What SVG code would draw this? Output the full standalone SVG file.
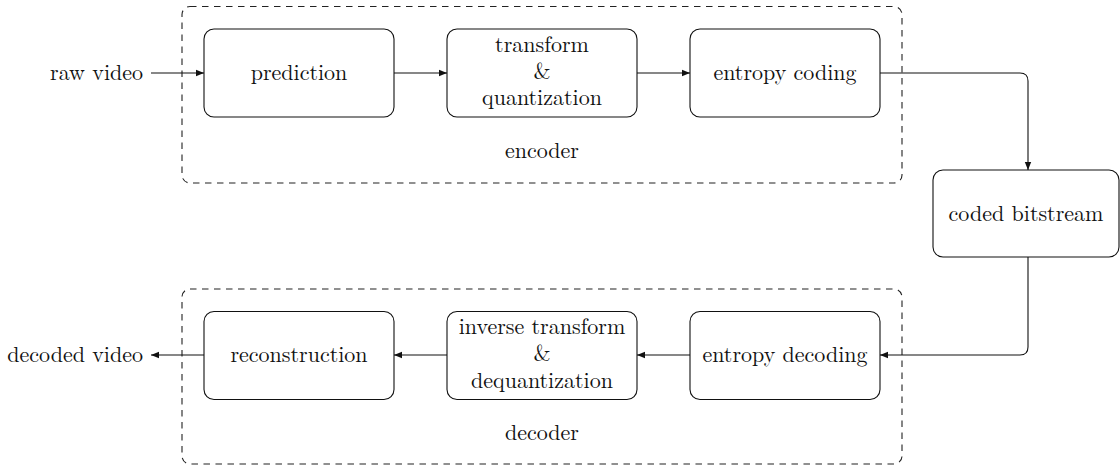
<svg xmlns="http://www.w3.org/2000/svg" width="1120" height="467" viewBox="0 0 1120 467">
  <style>
    text { font-family: "Latin Modern Roman", "CMU Serif", "Liberation Serif", "Times New Roman", Tinos, "Nimbus Roman", FreeSerif, "Noto Serif", "DejaVu Serif", serif; font-size: 22px; fill: #111; text-anchor: middle; }
    .lbl { text-anchor: end; }
    .node { fill: #fff; stroke: #111; stroke-width: 1.1; }
    .group { fill: none; stroke: #222; stroke-width: 1.1; stroke-dasharray: 6.5 5.5; }
    .edge { fill: none; stroke: #111; stroke-width: 1.1; marker-end: url(#arrow); }
  </style>
  <defs>
    <marker id="arrow" viewBox="0 0 10 10" refX="10" refY="5" markerWidth="8" markerHeight="8" markerUnits="userSpaceOnUse" orient="auto">
      <path d="M0,1 L10,5 L0,9 Z" fill="#111"/>
    </marker>
  </defs>
  <rect width="1120" height="467" fill="#fff"/>

  <!-- encoder / decoder groupings -->
  <g id="encoder">
    <rect class="group" x="182" y="6.5" width="720" height="176.5" rx="8"/>
    <text x="542" y="158">encoder</text>
  </g>
  <g id="decoder">
    <rect class="group" x="182" y="289" width="720" height="175" rx="8"/>
    <text x="542" y="440">decoder</text>
  </g>

  <!-- connectors -->
  <g id="connectors">
    <line class="edge" x1="151" y1="73" x2="204" y2="73"/>
    <line class="edge" x1="394" y1="73" x2="447" y2="73"/>
    <line class="edge" x1="637" y1="73" x2="690" y2="73"/>
    <path class="edge" d="M880,73 H1020 Q1028,73 1028,81 V170"/>
    <path class="edge" d="M1028,257 V347 Q1028,355 1020,355 H880"/>
    <line class="edge" x1="690" y1="355" x2="637" y2="355"/>
    <line class="edge" x1="447" y1="355" x2="394" y2="355"/>
    <line class="edge" x1="204" y1="355" x2="151" y2="355"/>
  </g>

  <!-- endpoints -->
  <g id="raw-video"><text class="lbl" x="143" y="80">raw video</text></g>
  <g id="decoded-video"><text class="lbl" x="143" y="362">decoded video</text></g>

  <!-- encoder stages -->
  <g id="prediction">
    <rect class="node" x="204" y="29" width="190" height="88" rx="10"/>
    <text x="299" y="80">prediction</text>
  </g>
  <g id="transform">
    <rect class="node" x="447" y="29" width="190" height="88" rx="10"/>
    <text x="542" y="52">transform<tspan x="542" dy="26.5">&amp;</tspan><tspan x="542" dy="26.5">quantization</tspan></text>
  </g>
  <g id="entropy-coding">
    <rect class="node" x="690" y="29" width="190" height="88" rx="10"/>
    <text x="785" y="80">entropy coding</text>
  </g>

  <!-- bitstream -->
  <g id="coded-bitstream">
    <rect class="node" x="933" y="170" width="186" height="87" rx="10"/>
    <text x="1026" y="221">coded bitstream</text>
  </g>

  <!-- decoder stages -->
  <g id="entropy-decoding">
    <rect class="node" x="690" y="311.5" width="190" height="88" rx="10"/>
    <text x="785" y="362">entropy decoding</text>
  </g>
  <g id="inverse-transform">
    <rect class="node" x="447" y="311.5" width="190" height="88" rx="10"/>
    <text x="542" y="334">inverse transform<tspan x="542" dy="27">&amp;</tspan><tspan x="542" dy="27">dequantization</tspan></text>
  </g>
  <g id="reconstruction">
    <rect class="node" x="204" y="311.5" width="190" height="88" rx="10"/>
    <text x="299" y="362">reconstruction</text>
  </g>
</svg>
